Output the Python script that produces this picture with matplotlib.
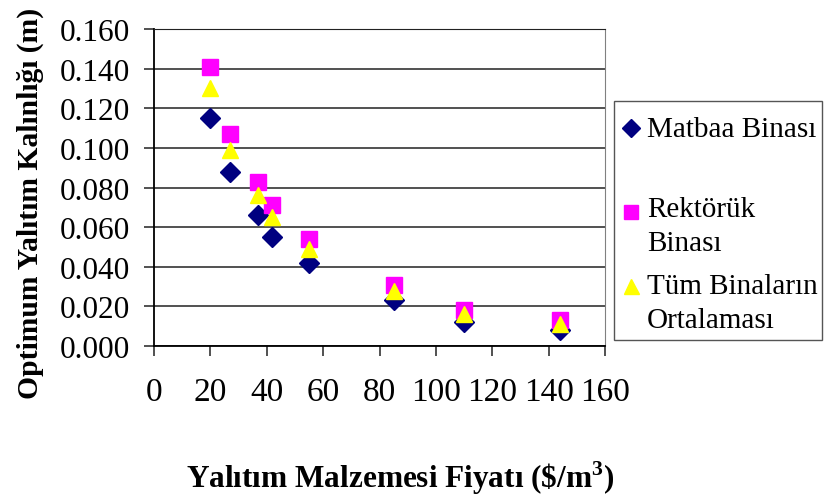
import matplotlib

matplotlib.use("Agg")

import matplotlib.pyplot as plt
from matplotlib.lines import Line2D
from matplotlib.patches import Rectangle

# insulation material price ($/m3)
price = [20, 27, 37, 42, 55, 85, 110, 144]

# optimum insulation thickness (m) per building
matbaa = [0.115, 0.088, 0.066, 0.055, 0.042, 0.023, 0.012, 0.008]
rektorluk = [0.141, 0.107, 0.083, 0.071, 0.054, 0.031, 0.018, 0.013]
ortalama = [0.130, 0.099, 0.076, 0.065, 0.049, 0.028, 0.016, 0.011]

series_labels = [["Matbaa Binası"], ["Rektörük", "Binası"], ["Tüm Binaların", "Ortalaması"]]
x_ticks = list(range(0, 161, 20))
y_ticks = [0.0, 0.02, 0.04, 0.06, 0.08, 0.10, 0.12, 0.14, 0.16]

styles = [
    dict(marker="D", markersize=10, color="#000080"),
    dict(marker="s", markersize=11, color="#ff00ff"),
    dict(marker="^", markersize=12, color="#ffff00"),
]

plt.rcParams["font.family"] = ["Liberation Serif", "DejaVu Serif"]
plt.rcParams["mathtext.fontset"] = "custom"
plt.rcParams["mathtext.rm"] = "Liberation Serif"
plt.rcParams["mathtext.bf"] = "Liberation Serif:bold"

W, H = 824, 502
fig = plt.figure(figsize=(W / 100, H / 100), dpi=100)
ax = fig.add_axes([154 / W, 1 - 347 / H, 451 / W, 317 / H])

for values, style in zip([matbaa, rektorluk, ortalama], styles):
    ax.plot(price, values, linestyle="none", **style)

ax.set_xlim(0, 160)
ax.set_ylim(0, 0.16)
ax.set_xticks(x_ticks)
ax.set_yticks(y_ticks)
ax.set_yticklabels([f"{v:.3f}" for v in y_ticks])
ax.yaxis.grid(True, color="#222222", linewidth=1.1)
ax.set_axisbelow(True)
ax.tick_params(axis="both", length=7, width=1.2, color="#333333")
ax.tick_params(axis="x", labelsize=24, pad=15)
ax.tick_params(axis="y", labelsize=22.5, pad=10)

for side in ("left", "bottom"):
    ax.spines[side].set_color("black")
    ax.spines[side].set_linewidth(1.3)
ax.spines["right"].set_color("#808080")
ax.spines["top"].set_color("#222222")

fig.text(400 / W, 1 - 478 / H, r"Yalıtım Malzemesi Fiyatı (\$/m$^{\mathbf{3}}$)",
         ha="center", va="center", fontsize=22.5, fontweight="bold")
fig.text(30 / W, 1 - 203 / H, "Optimum Yalıtım Kalınlığı (m)",
         ha="center", va="center", rotation=90, fontsize=21.3, fontweight="bold")

# legend box drawn by hand so the entries keep their uneven spacing
fig.add_artist(Rectangle((614 / W, 1 - 341 / H), 208 / W, 239 / H,
                         transform=fig.transFigure, facecolor="white",
                         edgecolor="#555555", linewidth=1.0))
marker_y = [129, 213, 287]
baselines = [[137], [217, 251], [294, 328]]
for style, my, lines, bases in zip(styles, marker_y, series_labels, baselines):
    fig.add_artist(Line2D([631 / W], [1 - my / H], transform=fig.transFigure,
                          linestyle="none", marker=style["marker"],
                          markersize=style["markersize"] * 0.9, color=style["color"]))
    for text, base in zip(lines, bases):
        fig.text(647 / W, 1 - base / H, text, ha="left", va="baseline", fontsize=21)

fig.savefig("out.png", dpi=100)
